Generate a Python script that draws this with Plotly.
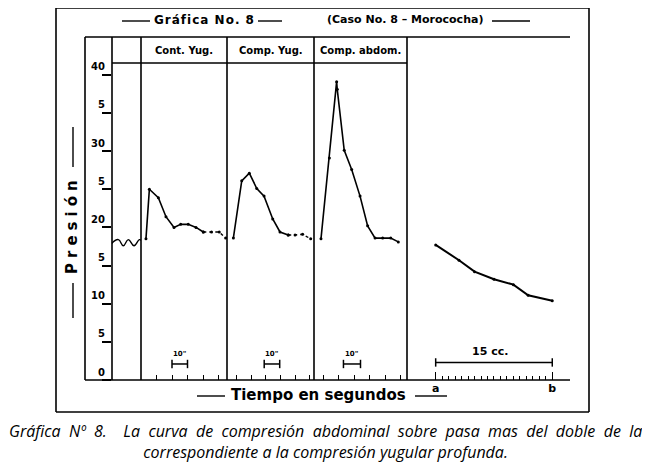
import plotly.graph_objects as go

# Presion readings (same scale for every panel, 0-40)
wave_t = [0, 4.3, 7.5, 10.7, 14.4, 17.8, 18.9]
wave_p = [17.9, 18.4, 17.6, 18.4, 17.6, 18.4, 18.3]

cont_yug_t = [3.2, 5.4, 11.2, 16.1, 21.3, 25.6, 30.5, 35.5, 40.2, 45.5, 50.5, 54.6]
cont_yug_p = [18.5, 25.0, 23.9, 21.4, 20.0, 20.4, 20.4, 20.0, 19.4, 19.4, 19.4, 18.6]

comp_yug_t = [4.1, 9.5, 14.4, 19.2, 23.9, 29.5, 34.2, 39.5, 43.9, 48.8, 54.0]
comp_yug_p = [18.6, 26.1, 27.1, 25.1, 24.1, 21.1, 19.4, 19.0, 19.0, 19.1, 18.5]

comp_abd_t = [4.5, 9.9, 14.6, 15.0, 19.5, 24.3, 29.7, 34.6, 39.4, 44.3, 49.5, 54.4]
comp_abd_p = [18.5, 29.1, 39.1, 38.1, 30.1, 27.6, 24.1, 20.2, 18.6, 18.6, 18.6, 18.1]

# right panel: volume in cc, from a to b
vol_cc = [0, 3.0, 5.0, 7.5, 10.0, 11.9, 15.0]
vol_p = [17.7, 15.7, 14.2, 13.2, 12.5, 11.1, 10.4]

y_ticks = [0, 5, 10, 15, 20, 25, 30, 35, 40]
y_labels = ["0", "5", "10", "5", "20", "5", "30", "5", "40"]

headers = ["Cont. Yug.", "Comp. Yug.", "Comp. abdom."]
scale_bars = [[20, 30], [24, 34], [19, 30]]  # 10 seconds in each panel

caption_1 = "Gráfica Nº 8.  La curva de compresión abdominal sobre pasa mas del doble de la"
caption_2 = "correspondiente a la compresión yugular profunda."

W, H = 650, 467
OFF = 8  # the page body margin pushes the plot 8px right and down
HAND = "DejaVu Sans"


def px(x):
    return (x - OFF) / W


def py(y):
    return 1 - (y - OFF) / H


INK = "black"
line = dict(color=INK, width=1.6)
dots = dict(color=INK, size=3)

fig = go.Figure()

# wavy baseline before the tests
fig.add_trace(go.Scatter(x=wave_t, y=wave_p, xaxis="x", yaxis="y", mode="lines",
                         line=dict(color=INK, width=1.4, shape="spline", smoothing=1.3)))

# Cont. Yug. (dotted tail)
fig.add_trace(go.Scatter(x=cont_yug_t[:9], y=cont_yug_p[:9], xaxis="x2", yaxis="y",
                         mode="lines+markers", line=line, marker=dots))
fig.add_trace(go.Scatter(x=cont_yug_t[8:], y=cont_yug_p[8:], xaxis="x2", yaxis="y",
                         mode="lines+markers", line=dict(color=INK, width=1.4, dash="dot"), marker=dots))

# Comp. Yug. (dotted tail)
fig.add_trace(go.Scatter(x=comp_yug_t[:8], y=comp_yug_p[:8], xaxis="x3", yaxis="y",
                         mode="lines+markers", line=line, marker=dots))
fig.add_trace(go.Scatter(x=comp_yug_t[7:], y=comp_yug_p[7:], xaxis="x3", yaxis="y",
                         mode="lines+markers", line=dict(color=INK, width=1.4, dash="dot"), marker=dots))

# Comp. abdom.
fig.add_trace(go.Scatter(x=comp_abd_t, y=comp_abd_p, xaxis="x4", yaxis="y",
                         mode="lines+markers", line=line, marker=dots))

# volume curve
fig.add_trace(go.Scatter(x=vol_cc, y=vol_p, xaxis="x5", yaxis="y",
                         mode="lines+markers", line=dict(color=INK, width=2), marker=dots))

# 10" scale bars
for i, bar in enumerate(scale_bars):
    xa = "x%d" % (i + 2)
    fig.add_trace(go.Scatter(x=bar, y=[2.1, 2.1], xaxis=xa, yaxis="y", mode="lines+markers",
                             line=dict(color=INK, width=1.5),
                             marker=dict(symbol="line-ns-open", size=6, line=dict(color=INK, width=1.5))))
    fig.add_annotation(x=sum(bar) / 2, y=3.4, xref=xa, yref="y", text="<b>10\"</b>", showarrow=False,
                       font=dict(family=HAND, size=7, color=INK))

# 15 cc bar
fig.add_trace(go.Scatter(x=[0, 15], y=[2.3, 2.3], xaxis="x5", yaxis="y", mode="lines+markers",
                         line=dict(color=INK, width=1.5),
                         marker=dict(symbol="line-ns-open", size=6, line=dict(color=INK, width=1.5))))
fig.add_annotation(x=7.0, y=3.8, xref="x5", yref="y", text="<b>15 cc.</b>", showarrow=False,
                   font=dict(family=HAND, size=11, color=INK))

common_x = dict(showgrid=False, zeroline=False, showline=False, anchor="y",
                ticks="inside", ticklen=5, tickwidth=1.3, tickcolor=INK, showticklabels=False)
s = 1.55  # px per second
fig.update_layout(
    width=W, height=H, margin=dict(l=0, r=0, t=0, b=0),
    paper_bgcolor="white", plot_bgcolor="white", showlegend=False,
    xaxis=dict(common_x, domain=[px(111.7), px(141)], range=[0, 29.3 / s], ticks=""),
    xaxis2=dict(common_x, domain=[px(141), px(227)], range=[0, 86 / s], tick0=10, dtick=10),
    xaxis3=dict(common_x, domain=[px(227), px(314)], range=[0, 87 / s], tick0=6, dtick=9.5),
    xaxis4=dict(common_x, domain=[px(314), px(407)], range=[0, 93 / s], tick0=6, dtick=10),
    xaxis5=dict(common_x, domain=[px(407), px(570)], range=[-3.69, 17.28],
                tickvals=[0, 5, 10, 15], ticktext=["<b>a</b>", "", "", "<b>b</b>"],
                showticklabels=True, ticklen=8, tickfont=dict(family=HAND, size=11, color=INK),
                minor=dict(tickvals=[i * 5 / 6 for i in range(1, 18)], ticks="inside", ticklen=4,
                           tickcolor=INK, tickwidth=1.2)),
    yaxis=dict(domain=[py(380), py(63)], range=[0, 317 / 7.63], anchor="x",
               showgrid=False, zeroline=False, showline=False, showticklabels=False,
               tickvals=y_ticks, ticks="outside", ticklen=9, tickwidth=1.5, tickcolor=INK),
)

# y tick labels sit above the tick marks, as lettered by hand
for v, lab in zip(y_ticks, y_labels):
    fig.add_annotation(x=px(107), y=v, xref="paper", yref="y", text="<b>%s</b>" % lab,
                       xanchor="right", yanchor="middle", yshift=8, showarrow=False,
                       font=dict(family=HAND, size=10, color=INK))

# frame lines and the hand-drawn dashes around titles
frame = [
    (56, 8, 589, 8), (56, 8, 56, 412), (589, 8, 589, 412), (56, 412, 589, 412),
    (85, 37, 570, 37), (85, 37, 85, 380), (85, 380, 570, 380),
    (112, 37, 112, 380), (141, 37, 141, 380), (227, 37, 227, 380),
    (314, 37, 314, 380), (407, 37, 407, 380), (112, 63, 407, 63),
]
dashes = [
    (122, 21, 150, 21), (258, 21, 282, 21), (492, 21, 530, 21),
    (73, 127, 73, 167), (73, 283, 73, 318),
    (197, 396, 225, 396), (415, 396, 447, 396),
]
for x0, y0, x1, y1 in frame:
    fig.add_shape(type="line", xref="paper", yref="paper", x0=px(x0), y0=py(y0), x1=px(x1), y1=py(y1),
                  line=dict(color=INK, width=1.6))
for x0, y0, x1, y1 in dashes:
    fig.add_shape(type="line", xref="paper", yref="paper", x0=px(x0), y0=py(y0), x1=px(x1), y1=py(y1),
                  line=dict(color=INK, width=1.4))


def label(text, x, y, size, angle=0, family=HAND):
    fig.add_annotation(x=px(x), y=py(y), xref="paper", yref="paper", text=text, showarrow=False,
                       xanchor="center", yanchor="middle", textangle=angle,
                       font=dict(family=family, size=size, color=INK))


for name, (a, b) in zip(headers, [(141, 227), (227, 314), (314, 407)]):
    label("<b>%s</b>" % name, (a + b) / 2, 50, 10)

label('<b><span style="letter-spacing:1px">Gráfica No. 8</span></b>', 204, 20, 12)
label("<b>(Caso No. 8 – Morococha)</b>", 405, 20, 11)
label('<b><span style="letter-spacing:5px">Presión</span></b>', 72, 225, 15, -90)
label("<b>Tiempo en segundos</b>", 318, 395, 15)

# caption: first line is justified in the print, so its word gaps are wider
label("<i>%s<br>%s</i>" % (caption_1.replace(" ", " \u00a0"), caption_2), 325, 441.5, 16,
      family="Open Sans")

fig.write_html("out.html")
